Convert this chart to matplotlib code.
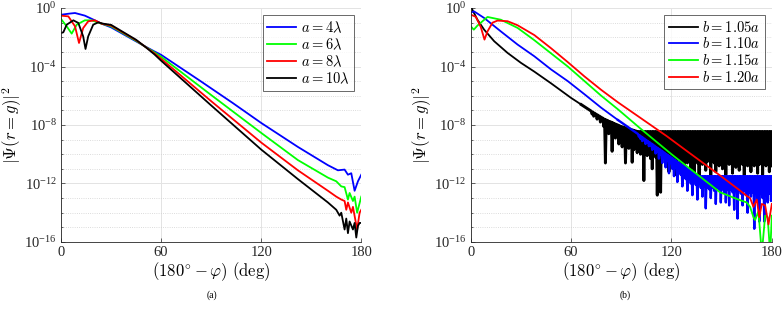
import numpy as np
import matplotlib
matplotlib.use("Agg")
import matplotlib.pyplot as plt
from matplotlib.ticker import FixedLocator, FuncFormatter, NullFormatter

plt.rcParams['mathtext.fontset'] = 'cm'
plt.rcParams['font.family'] = ['Liberation Serif', 'DejaVu Serif']

# ---- panel (a): values are log10 |Psi|^2 ----
a_labels = [r'$a=4\lambda$', r'$a=6\lambda$', r'$a=8\lambda$', r'$a=10\lambda$']
a_colors = ['#0000ff', '#00ff00', '#ff0000', '#000000']

a4_x = [0, 4.4, 8.4, 14.3, 20.3, 24.3, 30, 45, 51, 56, 60, 83, 103, 120, 142, 160,
        166, 170, 172, 174, 176, 178, 180]
a4_y = [-0.46, -0.39, -0.34, -0.52, -0.84, -1.07, -1.32, -2.28, -2.66, -2.97, -3.2,
        -4.95, -6.5, -7.86, -9.5, -10.75, -11.1, -11.05, -11.4, -11.3, -12.5, -11.85,
        -11.4]

a6_x = [0, 3.4, 6.4, 9.4, 14.3, 18.3, 24.3, 30, 45, 51, 56, 60, 90, 120, 142, 160,
        165, 168, 170, 172, 173, 175, 176, 177.5, 180]
a6_y = [-0.75, -1.25, -1.75, -1.14, -0.84, -0.84, -1.07, -1.25, -2.24, -2.68, -3.03,
        -3.33, -5.95, -8.54, -10.4, -11.6, -11.85, -12.2, -12.25, -13.1, -12.65,
        -13.2, -12.9, -14.0, -12.9]

a8_x = [0, 4.4, 8.4, 10.8, 13.3, 16.3, 20.3, 24.3, 30, 45, 51, 56, 60, 90, 120, 142,
        160, 165, 168, 170, 171, 172, 174, 175, 177.5, 179, 180]
a8_y = [-0.52, -0.57, -1.25, -2.39, -1.37, -0.91, -0.84, -1.07, -1.2, -2.2, -2.69,
        -3.1, -3.47, -6.37, -9.2, -11.1, -12.5, -12.9, -13.1, -13.2, -13.8, -13.3,
        -14.0, -13.6, -15.15, -14.0, -13.8]

a10_x = [0, 1.4, 3.4, 7.4, 10.4, 13.3, 14.7, 16.3, 19.3, 22.3, 25.3, 30, 45, 51, 56,
         60, 90, 120, 142, 160, 165, 167, 168, 170, 171, 172, 173, 175, 176, 177,
         178, 179, 180]
a10_y = [-1.71, -1.66, -1.14, -0.84, -1.02, -1.94, -2.8, -1.94, -1.14, -0.98, -1.07,
         -1.15, -2.17, -2.7, -3.17, -3.6, -6.66, -9.68, -11.7, -13.3, -13.8, -14.2,
         -14.0, -15.15, -14.4, -15.4, -14.6, -15.15, -14.7, -15.7, -14.9, -14.7,
         -14.7]

# ---- panel (b) ----
b_labels = [r'$b=1.05a$', r'$b=1.10a$', r'$b=1.15a$', r'$b=1.20a$']
b_colors = ['#000000', '#0000ff', '#00ff00', '#ff0000']

# b = 1.05a : smooth decay, then noisy band (top envelope + dips every degree)
b105_x = [0, 4, 8, 14, 22, 30, 38, 48, 54, 60, 66]
b105_y = [0.1, -0.8, -1.48, -2.27, -3.07, -3.75, -4.35, -5.15, -5.65, -6.15, -6.6]
b105_top_x = [72, 80, 90, 100, 180]
b105_top_y = [-7.05, -7.6, -8.1, -8.45, -8.45]
b105_noise_start = 72
b105_lows = [
    -7.25, -7.4, -7.35, -7.6, -7.5, -7.8, -7.7, -8.1,
    -10.6, -8.2, -8.6, -8.3, -9.8, -8.5, -8.9, -8.7, -9.3, -9.0,
    -9.5, -9.2, -10.6, -9.4, -9.6, -9.3, -10.55, -9.7, -9.5, -9.9,
    -9.7, -10.0, -9.8, -11.8, -9.9, -10.1, -9.8, -10.3, -11.0, -10.0,
    -10.2, -12.8, -10.1, -12.6, -10.3, -10.2, -10.5, -10.3, -11.2, -10.3,
    -10.4, -10.3, -11.4, -10.4, -10.3, -10.9, -10.4, -11.6, -10.5, -10.6,
    -10.4, -11.0, -10.5, -11.4, -10.4, -10.6, -11.5, -10.5, -10.7, -10.5,
    -11.1, -10.5, -10.4, -11.6, -10.5, -10.6, -11.2, -10.5, -10.8, -10.5,
    -11.0, -10.6, -11.4, -10.5, -10.7, -10.6, -11.3, -10.6, -10.9, -10.5,
    -11.1, -10.6, -10.7, -11.5, -10.6, -10.8, -10.5, -11.2, -10.6, -10.8,
    -10.6, -11.3, -10.7, -10.6, -11.4, -10.7, -10.8, -10.6, -11.2, -10.7,
    -10.8]

# b = 1.10a
b110_x = [0, 2, 8, 18, 28, 38, 48, 58, 68, 78, 88]
b110_y = [-0.3, -0.23, -0.68, -1.6, -2.5, -3.3, -4.2, -5.0, -5.9, -6.82, -7.66]
b110_top_x = [100, 136, 180]
b110_top_y = [-8.62, -11.5, -11.5]
b110_noise_start = 100
b110_lows = [
    -8.8, -8.95, -9.1, -9.05, -9.3, -9.2, -9.45, -9.4, -9.7, -9.6,
    -9.95, -9.8, -10.3, -10.0, -10.6, -10.2, -10.9, -10.4, -11.3, -10.6,
    -11.0, -11.5, -10.9, -11.9, -11.1, -11.4, -12.2, -11.3, -11.7, -12.5,
    -11.7, -12.0, -12.8, -11.9, -12.1, -13.1, -12.0, -12.3, -12.9, -12.2,
    -13.7, -12.3, -12.4, -13.0, -12.3, -12.5, -13.4, -12.3, -12.4, -13.3,
    -12.4, -12.6, -13.3, -12.4, -13.5, -12.4, -12.6, -13.8, -12.5, -14.4,
    -12.5, -12.7, -13.5, -12.5, -12.8, -14.0, -12.6, -12.9, -12.6, -15.1,
    -12.7, -13.1, -14.6, -12.7, -13.0, -14.6, -12.8, -13.3, -12.7, -13.2,
    -12.9]

# b = 1.15a
b115_x = [0, 1.8, 4, 10, 18, 28, 38, 48, 58, 68, 78, 88, 101, 120, 149, 160, 165,
          167, 169, 170, 172, 174, 176, 177.5, 179, 180]
b115_y = [-1.25, -1.48, -1.2, -0.61, -0.8, -1.36, -2.2, -3.1, -4.0, -5.0, -6.0,
          -6.93, -8.2, -10.0, -12.6, -13.1, -13.3, -13.6, -14.3, -14.5, -13.9, -16.8,
          -14.2, -14.3, -16.8, -14.2]

# b = 1.20a
b120_x = [0, 3, 6, 8.2, 10, 13, 16, 22, 28, 38, 48, 58, 68, 78, 88, 100, 117, 130,
          149, 160, 165, 167, 169, 171, 172.5, 174, 176, 178, 180]
b120_y = [-0.45, -0.6, -1.3, -2.16, -1.6, -1.0, -0.86, -0.9, -1.18, -1.85, -2.75,
          -3.7, -4.68, -5.6, -6.45, -7.4, -8.75, -9.85, -11.45, -12.4, -12.85,
          -13.0, -13.6, -13.1, -14.3, -13.4, -13.5, -14.8, -13.4]


def zigzag(x_last, y_last, top_x, top_y, start, lows):
    # zig-zag between the top envelope and the dips, joined to the smooth part
    xn = start + np.arange(len(lows))
    zx = np.empty(2 * len(lows))
    zy = np.empty(2 * len(lows))
    zx[0::2] = xn
    zx[1::2] = xn + 0.5
    zy[0::2] = np.interp(xn, top_x, top_y)
    zy[1::2] = lows
    zx = np.clip(zx, 0, 180)
    return np.concatenate([[x_last], zx]), np.concatenate([[y_last], zy])


def style_axes(ax):
    ax.set_yscale('log')
    ax.set_xlim(0, 180)
    ax.set_ylim(1e-16, 1e0)
    ax.xaxis.set_major_locator(FixedLocator([0, 60, 120, 180]))
    ax.yaxis.set_major_locator(FixedLocator([10.0 ** k for k in range(-16, 1, 4)]))
    ax.yaxis.set_minor_locator(FixedLocator([10.0 ** k for k in range(-16, 1)]))
    ax.yaxis.set_minor_formatter(NullFormatter())
    ax.yaxis.set_major_formatter(FuncFormatter(
        lambda v, p: r'$\mathregular{10^{%d}}$' % int(round(np.log10(v)))))
    ax.grid(True, which='major', color='#e3e3e3', linewidth=0.7, linestyle='-')
    ax.grid(True, which='minor', axis='y', color='#d0d0d0', linewidth=0.6, linestyle=':')
    ax.set_axisbelow(True)
    for s in ['top', 'right']:
        ax.spines[s].set_visible(False)
    for s in ['left', 'bottom']:
        ax.spines[s].set_linewidth(0.6)
        ax.spines[s].set_color('#262626')
    ax.tick_params(which='both', direction='in', labelsize=10.5, width=0.5,
                   colors='#262626')
    ax.tick_params(which='major', length=3, pad=3)
    ax.tick_params(which='minor', length=1.5)
    ax.set_xlabel(r'$(180^{\circ}-\varphi)\ (\mathrm{deg})$', fontsize=12, labelpad=1)
    ax.set_ylabel(r'$|\Psi(r=g)|^2$', fontsize=12, labelpad=0)


fig = plt.figure(figsize=(7.82, 3.09), dpi=100)
ax1 = fig.add_axes([0.078, 0.217, 0.384, 0.757])
ax2 = fig.add_axes([0.602, 0.217, 0.385, 0.757])

for xs, ys, c, lab in zip([a4_x, a6_x, a8_x, a10_x], [a4_y, a6_y, a8_y, a10_y],
                          a_colors, a_labels):
    ax1.plot(xs, 10.0 ** np.array(ys), color=c, lw=1.3, label=lab)

# b = 1.05a: smooth part, then the dense band drawn a bit thicker so it fills
ax2.plot(b105_x, 10.0 ** np.array(b105_y), color=b_colors[0], lw=1.3, label=b_labels[0])
zx, zy = zigzag(b105_x[-1], b105_y[-1], b105_top_x, b105_top_y, b105_noise_start,
                b105_lows)
ax2.plot(zx, 10.0 ** zy, color=b_colors[0], lw=2.1)

# b = 1.10a
ax2.plot(b110_x, 10.0 ** np.array(b110_y), color=b_colors[1], lw=1.3, label=b_labels[1])
zx, zy = zigzag(b110_x[-1], b110_y[-1], b110_top_x, b110_top_y, b110_noise_start,
                b110_lows)
ax2.plot(zx, 10.0 ** zy, color=b_colors[1], lw=1.7)

ax2.plot(b115_x, 10.0 ** np.array(b115_y), color=b_colors[2], lw=1.3, label=b_labels[2])
ax2.plot(b120_x, 10.0 ** np.array(b120_y), color=b_colors[3], lw=1.3, label=b_labels[3])

for ax in (ax1, ax2):
    style_axes(ax)
    leg = ax.legend(loc='upper right', fontsize=10.5, frameon=True, fancybox=False,
                    edgecolor='#262626', handlelength=2.0, handletextpad=0.3,
                    borderpad=0.3, labelspacing=0.12, borderaxespad=0.5)
    leg.get_frame().set_linewidth(0.6)
    for h in leg.get_lines():
        h.set_linewidth(1.3)

fig.text(0.271, 0.035, '(a)', fontsize=7, ha='center')
fig.text(0.80, 0.035, '(b)', fontsize=7, ha='center')

fig.savefig('out.png', dpi=100)
